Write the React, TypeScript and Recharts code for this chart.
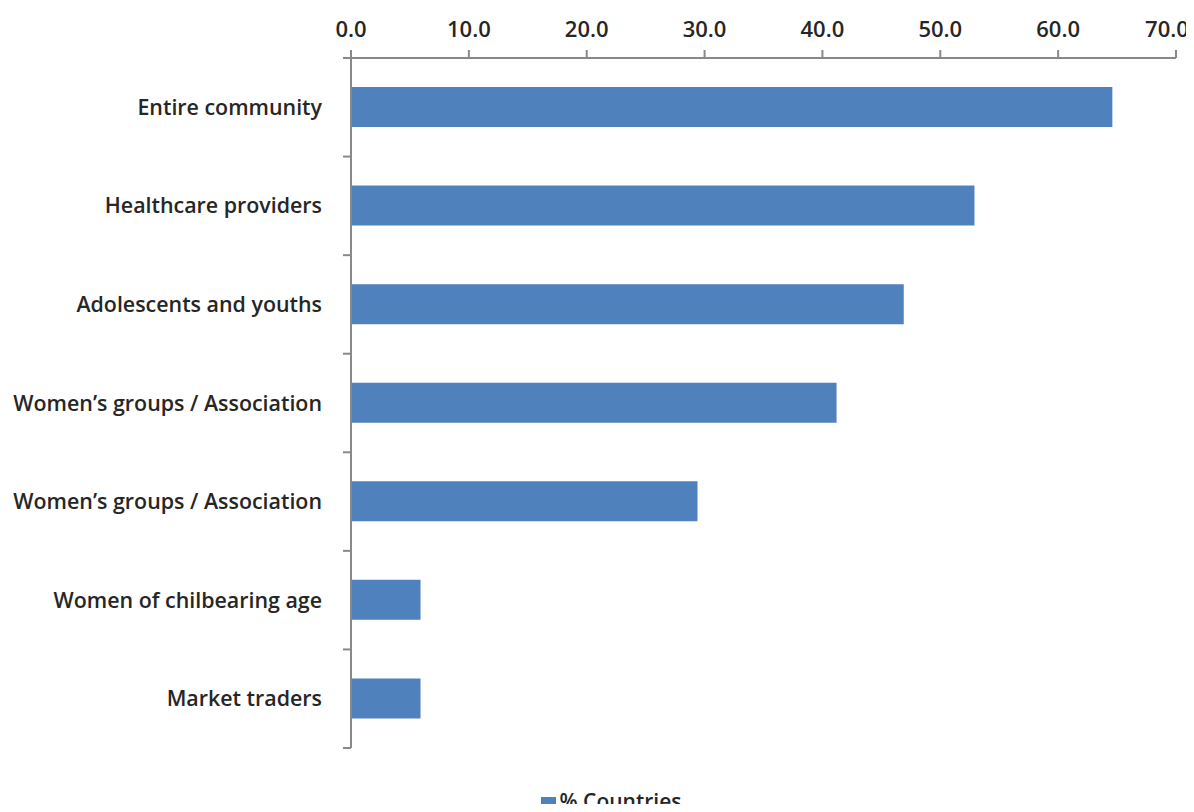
import React from 'react';
import { BarChart, Bar, XAxis, YAxis, Legend, Text } from 'recharts';

const categories = [
  'Entire community',
  'Healthcare providers',
  'Adolescents and youths',
  'Women\u2019s groups / Association',
  'Women\u2019s groups / Association ',
  'Women of chilbearing age',
  'Market traders',
];
const countries = [64.6, 52.9, 46.9, 41.2, 29.4, 5.9, 5.9];
const xTicks = [0, 10, 20, 30, 40, 50, 60, 70];
const boundaryTicks = [0, 1, 2, 3, 4, 5, 6, 7];

const data = categories.map((c, i) => ({ name: c, value: countries[i] }));

const FONT = '"Open Sans", sans-serif';
const TEXT = '#262626';
const AXIS = '#898989';
const BLUE = '#4f81bd';

const TopTick = (props: any) => {
  const { x, y, payload, index } = props;
  const last = index === xTicks.length - 1;
  return (
    <Text
      x={x}
      y={y}
      dx={last ? -9 : 0}
      textAnchor="middle"
      verticalAnchor="end"
      fill={TEXT}
      fontSize={22}
      fontWeight={600}
      fontFamily={FONT}
    >
      {Number(payload.value).toFixed(1)}
    </Text>
  );
};

export default function App() {
  return (
    <div style={{ width: 1186, height: 804, marginBottom: -8, overflow: 'hidden', fontFamily: FONT }}>
      <BarChart
        width={1186}
        height={830}
        data={data}
        layout="vertical"
        margin={{ top: 0, right: 18, left: 0, bottom: 62 }}
      >
        <XAxis
          type="number"
          orientation="top"
          domain={[0, 70]}
          ticks={xTicks}
          height={50}
          tickSize={8}
          tickMargin={13}
          stroke={AXIS}
          strokeWidth={2}
          tick={<TopTick />}
          interval={0}
        />
        <YAxis
          yAxisId={0}
          type="number"
          scale="linear"
          dataKey="value"
          domain={[0, 7]}
          ticks={boundaryTicks}
          reversed
          width={8}
          tickFormatter={() => ''}
          tickSize={8}
          tickMargin={0}
          stroke={AXIS}
          strokeWidth={2}
          interval={0}
          allowDataOverflow
        />
        <YAxis
          yAxisId={1}
          type="category"
          dataKey="name"
          width={335}
          tickLine={false}
          axisLine={false}
          tickSize={0}
          tickMargin={21}
          tick={{ fill: TEXT, fontSize: 21.4, fontWeight: 600, fontFamily: FONT }}
          interval={0}
        />
        <Legend
          verticalAlign="bottom"
          align="center"
          iconType="square"
          iconSize={15}
          wrapperStyle={{ top: 779, paddingLeft: 24 }}
          formatter={(v: string) => (
            <span style={{ color: TEXT, fontSize: 21, fontWeight: 600, fontFamily: FONT }}>{v}</span>
          )}
        />
        <Bar
          yAxisId={1}
          dataKey="value"
          name="% Countries"
          fill={BLUE}
          barSize={40}
          isAnimationActive={false}
        />
      </BarChart>
    </div>
  );
}
